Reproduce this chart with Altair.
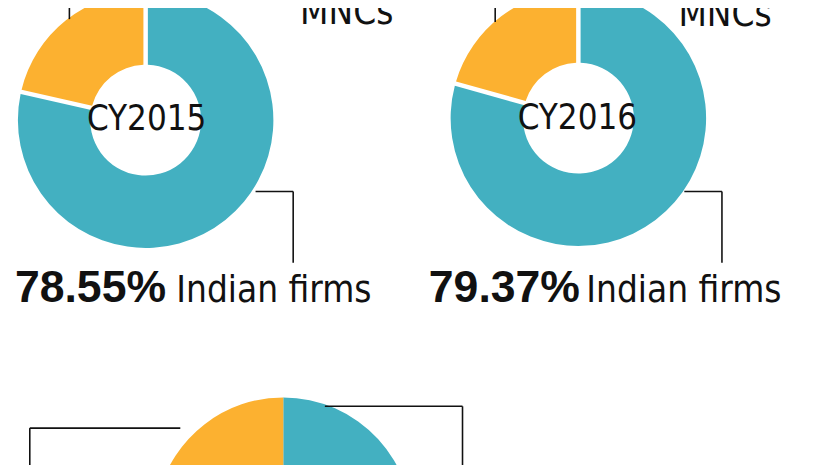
import altair as alt
import pandas as pd

# ---- data ----
charts = ["CY2015", "CY2016", "CY2017"]
indian_share = [78.55, 79.37, 79.0]
mnc_share = [21.45, 20.63, 21.0]
segments = ["Indian firms", "MNCs"]
pct_labels = ["78.55%", "79.37%"]
centre_labels = ["CY2015", "CY2016"]
mnc_word = "MNCs"
indian_word = "Indian firms"

# ---- layout (image pixels) ----
centre_x = [147, 584, 286]
centre_y = [119, 117, 529]
pct_x = [15, 433]
word_x = [178, 592]
label_base_y = 303
mnc_x = [303, 685]
mnc_y = [22, 24]
# leader lines: x, y, x2, y2
leaders_x = [258, 296, 691, 729, 70, 500, 30, 30, 328, 467]
leaders_y = [191, 191, 191, 191, 0, 0, 430, 430, 408, 408]
leaders_x2 = [296, 296, 729, 729, 70, 500, 182, 30, 467, 467]
leaders_y2 = [191, 263, 191, 263, 17, 20, 430, 470, 408, 470]

TEAL = "#43b0c1"
ORANGE = "#fcb130"
FONT_C = "DejaVu Sans Condensed, Liberation Sans Narrow, sans-serif"
FONT_B = "Liberation Sans, Arial, sans-serif"

W, H, M = 826, 465, 8

rows = []
for i, c in enumerate(charts):
    rows.append({"chart": c, "seg": segments[0], "value": indian_share[i], "order": 0,
                 "cx": centre_x[i], "cy": centre_y[i], "idx": i})
    rows.append({"chart": c, "seg": segments[1], "value": mnc_share[i], "order": 1,
                 "cx": centre_x[i], "cy": centre_y[i], "idx": i})
df_arcs = pd.DataFrame(rows)

xs = alt.Scale(domain=[M, W], nice=False, zero=False)
ys = alt.Scale(domain=[M, H], nice=False, zero=False, reverse=True)
X = lambda f: alt.X(f, scale=xs, axis=None)
Y = lambda f: alt.Y(f, scale=ys, axis=None)

base_arc = alt.Chart(df_arcs).transform_window(
    cum="sum(value)", groupby=["chart"], sort=[alt.SortField("order")], frame=[None, 0]
).transform_calculate(start="datum.cum - datum.value")

arc_enc = dict(
    x=X("cx:Q"),
    y=Y("cy:Q"),
    theta=alt.Theta("start:Q", scale=alt.Scale(domain=[0, 100]), stack=None),
    theta2="cum:Q",
    color=alt.Color("seg:N", scale=alt.Scale(domain=segments, range=[TEAL, ORANGE]), legend=None),
)

arcs_top = base_arc.transform_filter("datum.idx < 2").mark_arc(
    innerRadius=56, outerRadius=129, padAngle=0.032
).encode(**arc_enc)
arcs_bottom = base_arc.transform_filter("datum.idx == 2").mark_arc(
    innerRadius=56, outerRadius=130
).encode(**arc_enc)

df_lines = pd.DataFrame({"x": leaders_x, "y": leaders_y, "x2": leaders_x2, "y2": leaders_y2})
lines = alt.Chart(df_lines).mark_rule(color="#111111", strokeWidth=1.6).encode(
    x=X("x:Q"), y=Y("y:Q"), x2="x2:Q", y2="y2:Q"
)

df_centre = pd.DataFrame({"x": [148, 583], "y": [118, 117], "t": centre_labels})
centre_text = alt.Chart(df_centre).mark_text(
    font=FONT_C, fontSize=35, color="#111111", baseline="middle", align="center"
).encode(x=X("x:Q"), y=Y("y:Q"), text="t:N")

df_pct = pd.DataFrame({"x": pct_x, "y": [label_base_y] * 2, "t": pct_labels})
pct_text = alt.Chart(df_pct).mark_text(
    font=FONT_B, fontSize=45, fontWeight="bold", color="#111111",
    baseline="alphabetic", align="left"
).encode(x=X("x:Q"), y=Y("y:Q"), text="t:N")

df_words = pd.DataFrame({
    "x": word_x + mnc_x,
    "y": [label_base_y] * 2 + mnc_y,
    "t": [indian_word] * 2 + [mnc_word] * 2,
})
word_text = alt.Chart(df_words).mark_text(
    font=FONT_C, fontSize=37, color="#111111", baseline="alphabetic", align="left"
).encode(x=X("x:Q"), y=Y("y:Q"), text="t:N")

chart = alt.layer(arcs_top, arcs_bottom, lines, centre_text, pct_text, word_text).properties(
    width=W - M, height=H - M, padding=0, background="white",
    autosize=alt.AutoSizeParams(type="none"),
).configure_view(stroke=None)

chart.save("out.html", embed_options={"renderer": "svg", "actions": False})
